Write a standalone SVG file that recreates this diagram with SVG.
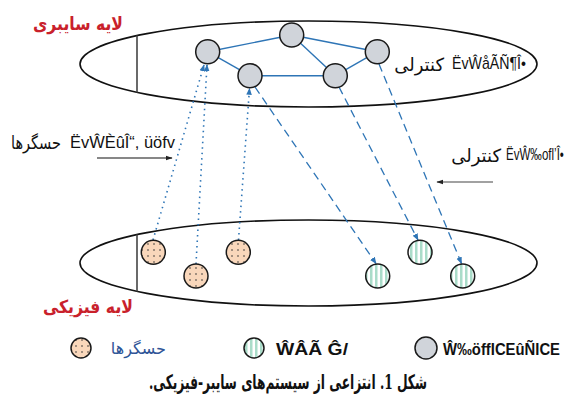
<svg xmlns="http://www.w3.org/2000/svg" width="577" height="403" viewBox="0 0 577 403">
<defs>
<style>
.ell{fill:none;stroke:#111;stroke-width:1.6}
.chord{stroke:#444;stroke-width:1.6}
.cy{fill:#d0d4da;stroke:#1a1a1a;stroke-width:1.5}
.sen{fill:url(#dots);stroke:#1a1a1a;stroke-width:1.5}
.act{fill:url(#stripes);stroke:#1a1a1a;stroke-width:1.5}
.edge{stroke:#2e75b6;stroke-width:1.4;fill:none}
.dot{stroke:#2e75b6;stroke-width:1.6;fill:none;stroke-dasharray:1.5 4}
.dash{stroke:#2e75b6;stroke-width:1.3;fill:none;stroke-dasharray:8 5}
.red{font-family:"DejaVu Sans",sans-serif;font-weight:bold;font-size:18px;fill:#c9212b}
.fa{font-family:"DejaVu Sans",sans-serif;font-size:18px;fill:#111}
.lat{font-family:"Liberation Sans",Arial,sans-serif;font-size:17px;fill:#111}
.latb{font-family:"Liberation Sans",Arial,sans-serif;font-size:16px;fill:#111;font-weight:bold}
.cap{font-family:"DejaVu Serif","DejaVu Sans",serif;font-weight:bold;font-size:20px;fill:#111}
</style>
<pattern id="dots" patternUnits="userSpaceOnUse" width="6" height="6" x="1" y="1">
<rect width="6" height="6" fill="#f9d7bb"/>
<circle cx="3" cy="3" r="0.8" fill="#333"/>
</pattern>
<pattern id="stripes" patternUnits="userSpaceOnUse" width="5" height="10">
<rect width="5" height="10" fill="#ffffff"/>
<rect width="2.5" height="10" fill="#aadcc9"/>
</pattern>
<marker id="ab" viewBox="0 0 10 10" refX="9" refY="5" markerWidth="7" markerHeight="7" markerUnits="userSpaceOnUse" orient="auto">
<path d="M0,1 L10,5 L0,9 z" fill="#2e75b6"/>
</marker>
<marker id="ak" viewBox="0 0 10 10" refX="9" refY="5" markerWidth="7" markerHeight="7" markerUnits="userSpaceOnUse" orient="auto">
<path d="M0,1.5 L10,5 L0,8.5 z" fill="#222"/>
</marker>
</defs>
<rect width="577" height="403" fill="#fff"/>

<g id="cyber-layer">
<ellipse class="ell" cx="308.5" cy="64" rx="228.5" ry="43"/>
<line class="chord" x1="137" y1="35.5" x2="137" y2="92.5"/>
<text class="red" x="123" y="30" text-anchor="end" textLength="90" lengthAdjust="spacingAndGlyphs">لایه سایبری</text>
<text class="fa" x="444" y="71" text-anchor="end">کنترلی</text>
<text class="lat" x="452" y="69" textLength="74" lengthAdjust="spacingAndGlyphs">ËvŴåÃÑ¶Î•</text>
</g>

<g id="physical-layer">
<ellipse class="ell" cx="308.5" cy="263" rx="228.5" ry="43"/>
<line class="chord" x1="137" y1="234.5" x2="137" y2="291.5"/>
<text class="red" x="133" y="313" text-anchor="end" textLength="90" lengthAdjust="spacingAndGlyphs">لایه فیزیکی</text>
</g>

<g id="connectors">
<line class="edge" x1="207.7" y1="51.7" x2="291.7" y2="35"/>
<line class="edge" x1="207.7" y1="51.7" x2="250" y2="75.7"/>
<line class="edge" x1="250" y1="75.7" x2="335.3" y2="75.7"/>
<line class="edge" x1="291.7" y1="35" x2="335.3" y2="75.7"/>
<line class="edge" x1="291.7" y1="35" x2="377.3" y2="51.7"/>
<line class="edge" x1="335.3" y1="75.7" x2="377.3" y2="51.7"/>
<line class="dot" x1="153" y1="240" x2="204" y2="65" marker-end="url(#ab)"/>
<line class="dot" x1="196" y1="264" x2="207" y2="65" marker-end="url(#ab)"/>
<line class="dot" x1="238.5" y1="240" x2="249.5" y2="88.5" marker-end="url(#ab)"/>
<line class="dash" x1="255" y1="87" x2="376" y2="263.5" marker-end="url(#ab)"/>
<line class="dash" x1="339" y1="87" x2="418" y2="240" marker-end="url(#ab)"/>
<line class="dash" x1="379" y1="64" x2="461.5" y2="263.5" marker-end="url(#ab)"/>
<line stroke="#111" stroke-width="1.2" x1="97" y1="158" x2="172" y2="158" marker-end="url(#ak)"/>
<line stroke="#444" stroke-width="1.2" x1="493" y1="182" x2="437" y2="182" marker-end="url(#ak)"/>
</g>

<g id="cyber-nodes">
<circle id="c1" class="cy" cx="207.7" cy="51.7" r="12"/>
<circle id="c2" class="cy" cx="291.7" cy="35" r="12"/>
<circle id="c3" class="cy" cx="250" cy="75.7" r="12"/>
<circle id="c4" class="cy" cx="335.3" cy="75.7" r="12"/>
<circle id="c5" class="cy" cx="377.3" cy="51.7" r="12"/>
</g>

<g id="sensors">
<circle id="s1" class="sen" cx="153.3" cy="252.3" r="12"/>
<circle id="s2" class="sen" cx="196" cy="276" r="12"/>
<circle id="s3" class="sen" cx="238.3" cy="252.3" r="12"/>
</g>

<g id="actuators">
<circle id="a1" class="act" cx="377.7" cy="276" r="12"/>
<circle id="a2" class="act" cx="420" cy="252.3" r="12"/>
<circle id="a3" class="act" cx="462.7" cy="276" r="12"/>
</g>

<g id="label-sensors">
<text class="fa" x="61" y="149" text-anchor="end" textLength="50" lengthAdjust="spacingAndGlyphs">حسگرها</text>
<text class="lat" x="70" y="148" textLength="105" lengthAdjust="spacingAndGlyphs">ËvŴÈûÎ“, üöfv</text>
</g>

<g id="label-control">
<text class="fa" x="501" y="162" text-anchor="end">کنترلی</text>
<text class="lat" x="0" y="0" transform="translate(506 160) scale(0.68 1)">ËvŴ‰ofl’Î•</text>
</g>

<g id="legend">
<circle class="sen" cx="81" cy="348" r="10"/>
<text x="166" y="354" text-anchor="end" font-family="DejaVu Sans, sans-serif" font-size="16" fill="#2f5597">حسگرها</text>
<circle class="act" cx="254" cy="348" r="10"/>
<text class="latb" x="276" y="355" textLength="72" lengthAdjust="spacingAndGlyphs">ŴÂÃ Ĝ/</text>
<circle class="cy" cx="426" cy="348" r="11"/>
<text class="latb" x="443" y="355" textLength="117" lengthAdjust="spacingAndGlyphs">Ŵ‰öffICEûÑICE</text>
</g>

<g id="caption">
<text class="cap" x="288" y="389" text-anchor="middle" direction="rtl" textLength="278" lengthAdjust="spacingAndGlyphs">شکل 1. انتزاعی از سیستم‌های سایبر-فیزیکی.</text>
</g>
</svg>
